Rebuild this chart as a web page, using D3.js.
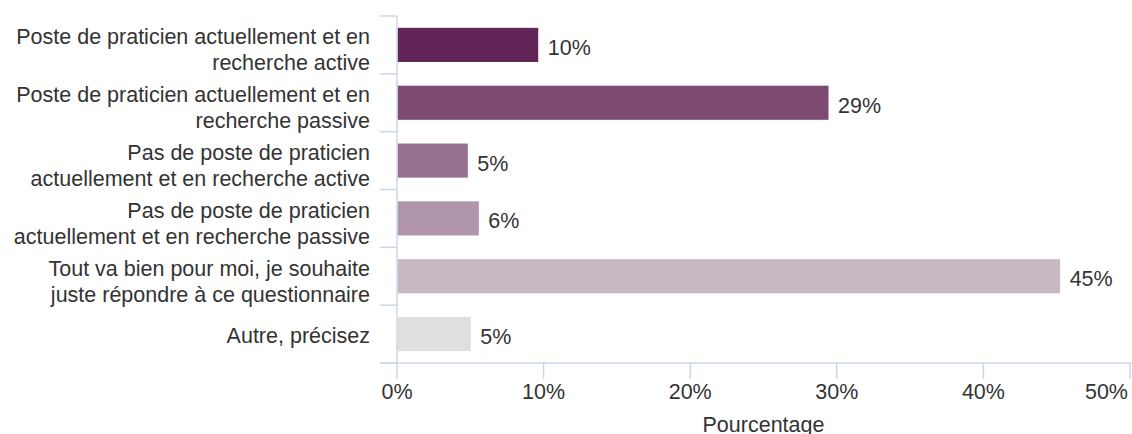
<!DOCTYPE html>
<html>
<head>
<meta charset="utf-8">
<script src="https://cdn.jsdelivr.net/npm/d3@7"></script>
<style>
  html, body { margin: 0; padding: 0; background: #ffffff; }
  svg { display: block; font-family: "Liberation Sans", Arial, sans-serif; }
</style>
</head>
<body>
<svg id="chart" width="1132" height="434"></svg>
<script>
const categories = [
  ["Poste de praticien actuellement et en", "recherche active"],
  ["Poste de praticien actuellement et en", "recherche passive"],
  ["Pas de poste de praticien", "actuellement et en recherche active"],
  ["Pas de poste de praticien", "actuellement et en recherche passive"],
  ["Tout va bien pour moi, je souhaite", "juste répondre à ce questionnaire"],
  ["Autre, précisez"]
];
const values = [9.6, 29.4, 4.8, 5.55, 45.2, 5.0];
const barColors = ["#612558", "#7e4a74", "#977290", "#b196ab", "#c7b8c3", "#dfdfdf"];
const xTicks = [0, 10, 20, 30, 40, 50];
const xTitle = "Pourcentage";

const svg = d3.select("#chart");
const margin = { left: 397, right: 2, top: 16, bottom: 71 };
const W = 1132, H = 434;
const x = d3.scaleLinear().domain([0, 50]).range([margin.left, W - margin.right]);
const y = d3.scaleBand().domain(d3.range(categories.length))
  .range([margin.top, H - margin.bottom]).paddingInner(0.41).paddingOuter(0.205);

const axisColor = "#ccd6eb";
const textColor = "#333333";
const fs = 21.5;

// bars
svg.append("g").selectAll("rect").data(values).join("rect")
  .attr("x", x(0) + 0.5)
  .attr("y", (d, i) => y(i))
  .attr("width", d => x(d) - x(0))
  .attr("height", y.bandwidth())
  .attr("fill", (d, i) => barColors[i]);

// y axis line + ticks at band boundaries
const yAxisG = svg.append("g");
yAxisG.append("line")
  .attr("x1", x(0)).attr("x2", x(0))
  .attr("y1", margin.top).attr("y2", H - margin.bottom)
  .attr("stroke", axisColor).attr("stroke-width", 1.5);
const step = y.step();
const boundaries = d3.range(categories.length + 1).map(i => margin.top + i * step);
yAxisG.selectAll("line.tk").data(boundaries).join("line")
  .attr("class", "tk")
  .attr("x1", x(0) - 17).attr("x2", x(0))
  .attr("y1", d => d).attr("y2", d => d)
  .attr("stroke", axisColor).attr("stroke-width", 1.5);

// category labels
const lh = 26;
const labG = svg.append("g");
categories.forEach((lines, i) => {
  const c = y(i) + y.bandwidth() / 2;
  const n = lines.length;
  const t = labG.append("text")
    .attr("text-anchor", "end")
    .attr("fill", textColor)
    .attr("font-size", fs);
  lines.forEach((ln, j) => {
    const base = n === 1 ? c + 8.5 : c - 0.5 + j * lh;
    t.append("tspan").attr("x", 370).attr("y", base).text(ln);
  });
});

// x axis
const xAxisG = svg.append("g").attr("transform", `translate(0,${H - margin.bottom})`);
xAxisG.append("line")
  .attr("x1", x(0) - 17).attr("x2", x(50) + 1)
  .attr("y1", 0).attr("y2", 0)
  .attr("stroke", axisColor).attr("stroke-width", 1.5);
xAxisG.selectAll("line.tk").data(xTicks).join("line")
  .attr("class", "tk")
  .attr("x1", d => x(d)).attr("x2", d => x(d))
  .attr("y1", 0).attr("y2", 16)
  .attr("stroke", axisColor).attr("stroke-width", 1.5);
xAxisG.selectAll("text").data(xTicks).join("text")
  .attr("x", (d, i) => i === xTicks.length - 1 ? W - 4 : x(d))
  .attr("y", 36)
  .attr("text-anchor", (d, i) => i === xTicks.length - 1 ? "end" : "middle")
  .attr("fill", textColor)
  .attr("font-size", fs)
  .text(d => d + "%");

svg.append("text")
  .attr("x", (x(0) + x(50)) / 2).attr("y", 432)
  .attr("text-anchor", "middle")
  .attr("fill", textColor)
  .attr("font-size", fs)
  .text(xTitle);

// data labels
svg.append("g").selectAll("text").data(values).join("text")
  .attr("x", d => x(d) + 10)
  .attr("y", (d, i) => y(i) + y.bandwidth() / 2 + 10)
  .attr("fill", textColor)
  .attr("font-size", fs)
  .text(d => Math.round(d) + "%");
</script>
</body>
</html>
